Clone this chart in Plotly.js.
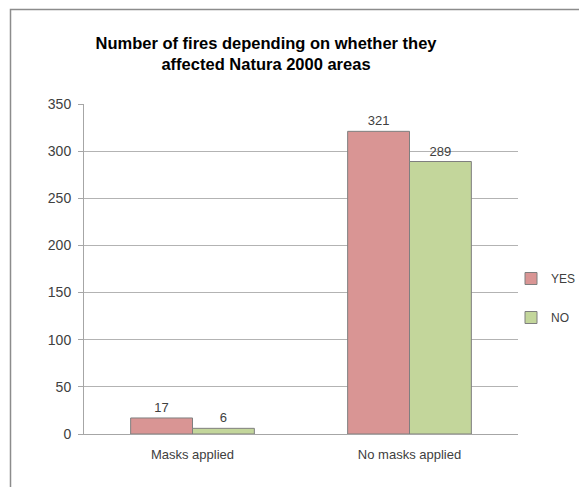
<!DOCTYPE html>
<html>
<head>
<meta charset="utf-8">
<script src="https://cdn.plot.ly/plotly-3.0.1.min.js"></script>
<style>
  html, body { margin: 0; padding: 0; background: #ffffff; }
  #chart { width: 579px; height: 487px; }
</style>
</head>
<body>
<div id="chart"></div>
<script>
// Fire counts by mask application and Natura 2000 involvement
const categories = ["Masks applied", "No masks applied"];
const yesValues = [17, 321];
const noValues = [6, 289];
const seriesNames = ["YES", "NO"];
const yTicks = [0, 50, 100, 150, 200, 250, 300, 350];

const W = 579, H = 487;
const M = { l: 84, r: 61, t: 104, b: 53, autoexpand: false };
const pw = W - M.l - M.r, ph = H - M.t - M.b;
// convert pixel positions to paper coordinates
const px = x => (x - M.l) / pw;
const py = y => (H - M.b - y) / ph;

const fontFamily = "Liberation Sans, Arial, sans-serif";
const labelFont = { family: fontFamily, size: 13, color: "#404040" };
const yTickFont = { family: fontFamily, size: 14, color: "#404040" };
const legendFont = { family: fontFamily, size: 12, color: "#404040" };

function barTrace(name, values, fill, group) {
  return {
    type: "bar",
    name: name,
    x: categories,
    y: values,
    text: values.map(String),
    textposition: "outside",
    cliponaxis: false,
    textfont: labelFont,
    legendgroup: group,
    marker: { color: fill, line: { color: "#7f7f7f", width: 1 } },
    hoverinfo: "x+y+name"
  };
}

const data = [
  barTrace(seriesNames[0], yesValues, "#D99594", "g1"),
  barTrace(seriesNames[1], noValues, "#C3D69B", "g2")
];

const layout = {
  width: W,
  height: H,
  margin: M,
  paper_bgcolor: "#ffffff",
  plot_bgcolor: "#ffffff",
  barmode: "group",
  bargap: 0.43,
  bargroupgap: 0,
  title: {
    text: "<b>Number of fires depending on whether they<br>affected Natura 2000 areas</b>",
    font: { family: fontFamily, size: 16.5, color: "#000000" },
    x: 266 / W,
    xanchor: "center",
    y: 1 - 49 / H,
    yanchor: "middle"
  },
  xaxis: {
    type: "category",
    showline: true,
    linecolor: "#a6a6a6",
    linewidth: 1,
    ticks: "",
    showgrid: false,
    zeroline: false,
    tickfont: labelFont,
    ticklabelstandoff: 8
  },
  yaxis: {
    range: [0, 350],
    tickvals: yTicks,
    ticktext: yTicks.map(String),
    showline: true,
    linecolor: "#a6a6a6",
    linewidth: 1,
    ticks: "outside",
    ticklen: 5,
    tickcolor: "#a6a6a6",
    showgrid: true,
    gridcolor: "#b3b3b3",
    gridwidth: 1,
    zeroline: false,
    tickfont: yTickFont,
    ticklabelstandoff: 4
  },
  showlegend: true,
  legend: {
    x: px(511),
    xanchor: "left",
    y: py(264),
    yanchor: "top",
    traceorder: "grouped",
    tracegroupgap: 20,
    font: legendFont,
    bgcolor: "rgba(0,0,0,0)",
    itemwidth: 30
  },
  shapes: [
    {
      type: "rect",
      xref: "paper", yref: "paper",
      x0: px(10.5), x1: px(620),
      y0: py(530), y1: py(9.5),
      line: { color: "#8c8c8c", width: 1.5 },
      fillcolor: "rgba(0,0,0,0)",
      layer: "below"
    }
  ]
};

Plotly.newPlot("chart", data, layout, { displayModeBar: false, staticPlot: true });
</script>
</body>
</html>
